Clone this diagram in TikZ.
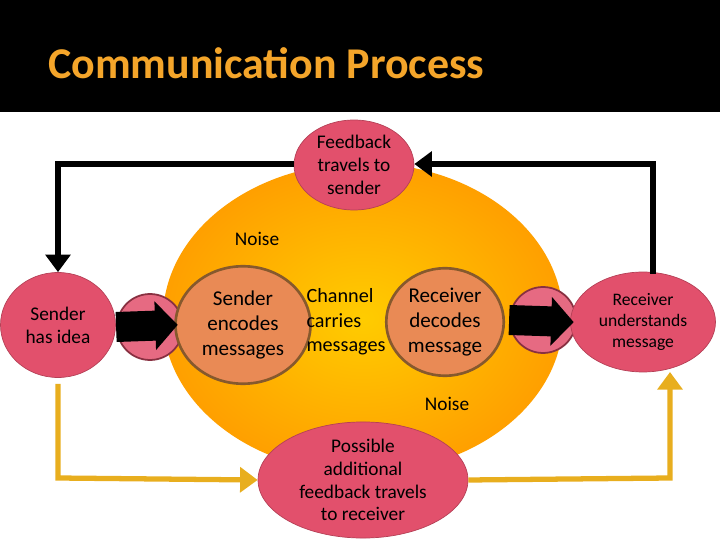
\documentclass[tikz,border=0pt]{standalone}
\usepackage{fontspec}
\setmainfont{Carlito}
\usetikzlibrary{positioning,shapes,arrows.meta}
\definecolor{pinkred}{HTML}{E2506C}
\definecolor{salmon}{HTML}{E98A55}
\definecolor{gold}{HTML}{E8AE1E}
\definecolor{titleor}{HTML}{F4A52A}
\tikzstyle{bubble}=[ellipse, draw=pinkred!80!black, fill=pinkred, text centered, inner sep=0pt, font=\fontsize{11}{13}\selectfont]
\tikzstyle{inner}=[ellipse, draw=brown!70!black, line width=1.5pt, fill=salmon, text centered, inner sep=0pt, font=\fontsize{12}{14}\selectfont]
\tikzstyle{link}=[circle, draw=pinkred!60!black, line width=1pt, fill=pinkred!85!white, minimum size=1.32cm]
\tikzstyle{bigarrow}=[line width=0.6cm, -{Triangle[length=0.45cm,width=0.95cm]}, shorten >=-2pt]

\begin{document}
\begin{tikzpicture}[x=0.02cm, y=-0.02cm]
        \useasboundingbox (0,0) rectangle (720,540);
        \fill[black] (0,0) rectangle (720,112);
        \node (title) [anchor=west, text=titleor, font=\fontsize{25}{30}\bfseries\selectfont] at (42,63) {Communication Process};
        % big circle
        \shade[inner color=yellow!60!orange, outer color=orange!75!yellow] (363,318) ellipse [x radius=200, y radius=155];
        \node (feedback) [bubble, minimum width=2.4cm, minimum height=1.8cm, align=center] at (354,165) {Feedback\\travels to\\sender};
        \node (idea) [bubble, minimum width=2.3cm, minimum height=2.1cm, align=center] at (58,325) {Sender\\has idea};
        \node (link1) [link] at (150,327) {};
        \node (encode) [inner, minimum width=2.7cm, minimum height=2.35cm, align=center] at (243,325) {Sender\\encodes\\messages};
        \node (channel) [align=left, font=\fontsize{11.5}{14}\selectfont] at (346,322) {Channel\\carries\\messages};
        \node (decode) [inner, minimum width=2.35cm, minimum height=2.15cm, align=center] at (445,322) {Receiver\\decodes\\message};
        \node (link2) [link] at (543,320) {};
        \node (understand) [bubble, minimum width=2.9cm, minimum height=2cm, align=center, font=\fontsize{10}{12}\selectfont] at (643,322) {Receiver\\understands\\message};
        \node (possible) [bubble, minimum width=4.2cm, minimum height=2.2cm, align=center] at (363,480) {Possible\\additional\\feedback travels\\to receiver};
        \node (noise1) [font=\fontsize{11}{13}\selectfont] at (257,239) {Noise};
        \node (noise2) [font=\fontsize{11}{13}\selectfont] at (447,404) {Noise};
        \draw[bigarrow] (link1.west) -- (encode.west);
        \draw[bigarrow] (link2.west) -- (understand.west);
        % feedback loop
        \draw[line width=3pt, -{Triangle[length=10pt,width=14pt]}] (feedback.west |- 0,164) -- (58,164) -- (idea.north);
        \coordinate (rtop) at (653,274);
        \draw[line width=3pt, -{Triangle[length=10pt,width=14pt]}] (rtop) -- (653,164) -- (feedback.east |- 0,164);
        % second loop
        \draw[gold, line width=3pt, -{Triangle[length=10pt,width=14pt]}] (idea.south) ++(0,6) -- (58,478) -- (possible.west);
        \draw[gold, line width=3pt, -{Triangle[length=10pt,width=14pt]}] (possible.east) -- (670,478) -- (670,372);
      \end{tikzpicture}
\end{document}
